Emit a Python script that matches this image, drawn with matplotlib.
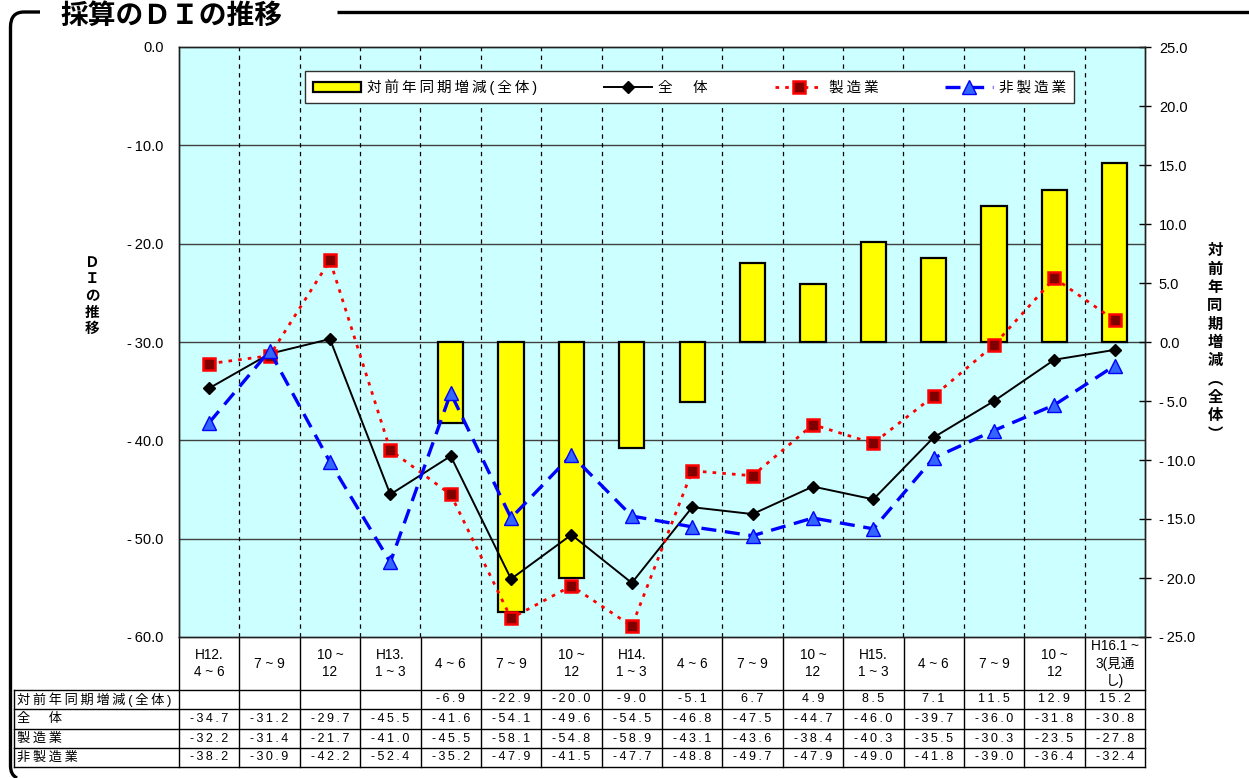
import numpy as np
import matplotlib
matplotlib.use("Agg")
import matplotlib.pyplot as plt
import matplotlib.transforms as mtrans
from matplotlib.path import Path
from matplotlib.patches import PathPatch

plt.rcParams['font.family'] = ['Liberation Sans', 'Noto Sans CJK JP', 'DejaVu Sans']
plt.rcParams['axes.unicode_minus'] = False

# ---- data -------------------------------------------------------------
categories = ["H12.\n4 ~ 6", "7 ~ 9", "10 ~\n12", "H13.\n1 ~ 3",
              "4 ~ 6", "7 ~ 9", "10 ~\n12", "H14.\n1 ~ 3",
              "4 ~ 6", "7 ~ 9", "10 ~\n12", "H15.\n1 ~ 3",
              "4 ~ 6", "7 ~ 9", "10 ~\n12", "H16.1 ~\n3(見通\nし)"]
yoy_change = [None, None, None, None, -6.9, -22.9, -20.0, -9.0,
              -5.1, 6.7, 4.9, 8.5, 7.1, 11.5, 12.9, 15.2]
di_total = [-34.7, -31.2, -29.7, -45.5, -41.6, -54.1, -49.6, -54.5,
            -46.8, -47.5, -44.7, -46.0, -39.7, -36.0, -31.8, -30.8]
di_mfg = [-32.2, -31.4, -21.7, -41.0, -45.5, -58.1, -54.8, -58.9,
          -43.1, -43.6, -38.4, -40.3, -35.5, -30.3, -23.5, -27.8]
di_nonmfg = [-38.2, -30.9, -42.2, -52.4, -35.2, -47.9, -41.5, -47.7,
             -48.8, -49.7, -47.9, -49.0, -41.8, -39.0, -36.4, -32.4]
series_names = ["対前年同期増減(全体)", "全　体", "製造業", "非製造業"]
left_ticks = [-60, -50, -40, -30, -20, -10, 0]
right_ticks = [-25, -20, -15, -10, -5, 0, 5, 10, 15, 20, 25]

# ---- figure ------------------------------------------------------------
W, H = 1249, 778
fig = plt.figure(figsize=(W / 100, H / 100), dpi=100)
fig.patch.set_facecolor('white')


def fbox(x0, y0, x1, y1):
    """pixel box (top-left origin) -> figure fraction rect"""
    return [x0 / W, 1 - y1 / H, (x1 - x0) / W, (y1 - y0) / H]


def spaced(s):
    """letter-spaced text, line by line"""
    return "\n".join("\u2009".join(line) for line in s.split("\n"))


PL, PR, PT, PB = 179, 1145, 47, 637
ax = fig.add_axes(fbox(PL, PT, PR, PB))
ax2 = ax.twinx()
ax.set_zorder(3)
ax2.set_zorder(2)
ax.patch.set_visible(False)
ax2.patch.set_visible(True)
ax2.patch.set_facecolor('#ccffff')

n = len(categories)
x = np.arange(n)
ax.set_xlim(-0.5, n - 0.5)
ax.set_ylim(-60, 0)
ax2.set_ylim(-25, 25)
ax.set_xticks([])
ax2.set_xticks([])


def fmt(v):
    return ("-\u2009" if v < 0 else "") + f"{abs(v):.1f}"


ax.set_yticks(left_ticks)
ax.set_yticklabels([fmt(v) for v in left_ticks], fontsize=10.5)
ax.tick_params(axis='y', length=0, pad=11)
ax2.set_yticks(right_ticks)
ax2.set_yticklabels([fmt(v) for v in right_ticks], fontsize=10.5)
ax2.tick_params(axis='y', direction='inout', length=8, width=1, pad=6)

for a in (ax, ax2):
    for s in a.spines.values():
        s.set_color('#202020')
        s.set_linewidth(1.0)

# horizontal grid (left-axis values) behind the bars
tr = mtrans.blended_transform_factory(ax2.transAxes, ax.transData)
for v in left_ticks[1:-1]:
    ax2.plot([0, 1], [v, v], transform=tr, color='#404040', lw=1.0, zorder=1)
# category separators
for i in range(1, n):
    ax2.axvline(i - 0.5, color='black', lw=0.9, ls=(0, (3.5, 3.5)), zorder=1)

# bars: year-on-year change (right axis)
bx = [i for i, v in enumerate(yoy_change) if v is not None]
bv = [v for v in yoy_change if v is not None]
bars = ax2.bar(bx, bv, width=0.42, color='#ffff00', edgecolor='black',
               linewidth=1.6, zorder=2)

# DI lines (left axis)
l_total, = ax.plot(x, di_total, color='black', lw=1.4, marker='D', ms=6,
                   mfc='black', mec='black', zorder=4)
l_mfg, = ax.plot(x, di_mfg, color='#ff0000', lw=2.0, ls=(0, (1.3, 2.2)),
                 marker='s', ms=8, mfc='#800000', mec='#ff0000', mew=1.8,
                 zorder=5)
l_non, = ax.plot(x, di_nonmfg, color='#0000ff', lw=2.4, ls=(0, (4.5, 2.6)),
                 marker='^', ms=10, mfc='#3366ff', mec='#0000ff', mew=1.0,
                 zorder=6)

leg = ax.legend([bars, l_total, l_mfg, l_non], [spaced(s) for s in series_names],
                loc='center', bbox_to_anchor=((303 + 1076) / 2 / W, 1 - 87 / H),
                bbox_transform=fig.transFigure, ncol=4, frameon=True,
                fancybox=False, framealpha=1, edgecolor='#303030',
                handlelength=3.3, handleheight=0.7, columnspacing=4.6,
                handletextpad=0.4, borderpad=0.55, fontsize=10.5)
leg.get_frame().set_linewidth(1.0)
leg.set_zorder(10)

# ---- data table below the plot ------------------------------------------
TB = 767
tab = fig.add_axes(fbox(PL, PB, PR, TB))
tab.set_xlim(-0.5, n - 0.5)
tab.set_ylim(TB - PB, 0)
tab.axis('off')
cw = (PR - PL) / n
x_left = -0.5 - (PL - 14) / cw
x_lab = -0.5 - (PL - 17) / cw
hdr = 53
row_edges = [hdr, 72, 92, 111, TB - PB]
kw = dict(color='black', lw=1.0, clip_on=False)
for i in range(n + 1):
    tab.plot([i - 0.5, i - 0.5], [0, row_edges[-1]], **kw)
tab.plot([x_left, x_left], [row_edges[0], row_edges[-1]], **kw)
for y in row_edges:
    tab.plot([x_left, n - 0.5], [y, y], **kw)

for i, c in enumerate(categories):
    tab.text(i, hdr / 2, c, ha='center', va='center', fontsize=9.8,
             linespacing=1.3, clip_on=False)

rows = [yoy_change, di_total, di_mfg, di_nonmfg]

for r, (name, vals) in enumerate(zip(series_names, rows)):
    yc = (row_edges[r] + row_edges[r + 1]) / 2
    tab.text(x_lab, yc, spaced(name), ha='left', va='center', fontsize=9.5,
             clip_on=False)
    for i, v in enumerate(vals):
        if v is None:
            continue
        tab.text(i, yc, spaced(f"{v:.1f}"), ha='center', va='center',
                 fontsize=9, clip_on=False)

# ---- frame, title and axis titles ------------------------------------------
ov = fig.add_axes([0, 0, 1, 1])
ov.set_xlim(0, W)
ov.set_ylim(H, 0)
ov.axis('off')
ov.set_zorder(0)
ov.patch.set_visible(False)

verts = [(40, 12), (24, 12), (10.5, 12), (10.5, 27), (10.5, 766),
         (10.5, 775), (17, 778)]
codes = [Path.MOVETO, Path.LINETO, Path.CURVE3, Path.CURVE3, Path.LINETO,
         Path.CURVE3, Path.CURVE3]
ov.add_patch(PathPatch(Path(verts, codes), fill=False, lw=2.4,
                       edgecolor='black', capstyle='butt'))
ov.plot([337, W], [12, 12], color='black', lw=2.4, solid_capstyle='butt')
ov.text(60, 24, "採算のＤＩの推移", ha='left', va='baseline', fontsize=20,
        fontweight='bold', family=['Noto Sans CJK JP'])

ov.text(92, 295, "Ｄ\nＩ\nの\n推\n移", ha='center', va='center', fontsize=10.5,
        fontweight='bold', linespacing=1.05, family=['Noto Sans CJK JP'])
ov.text(1215, 342, "対\n前\n年\n同\n期\n増\n減\n︵\n全\n体\n︶", ha='center',
        va='center', fontsize=11, fontweight='bold', linespacing=1.18,
        family=['Noto Sans CJK JP'])

fig.savefig("out.png", dpi=100)
